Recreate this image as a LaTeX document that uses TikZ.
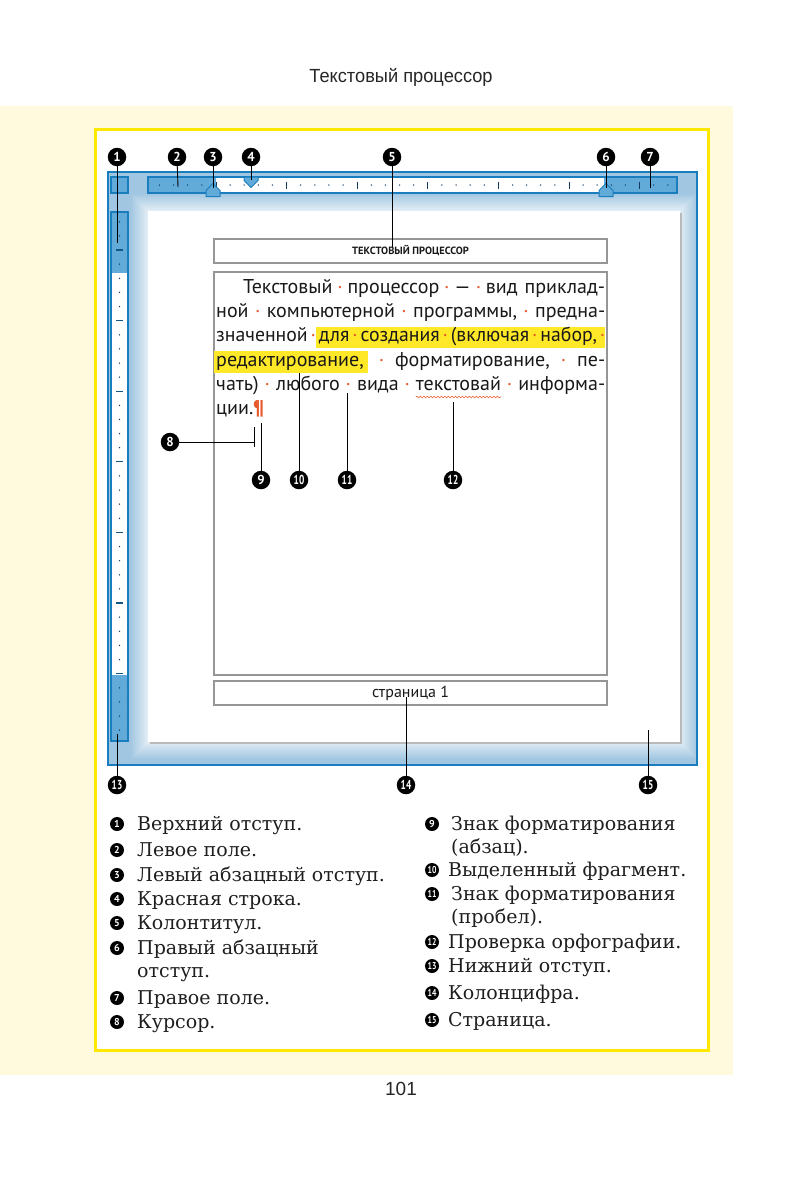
\documentclass[tikz,border=0pt]{standalone}
\usepackage{fontspec}
\setmainfont{DejaVu Serif}
\newfontfamily\bodyf{PT Sans}
\newfontfamily\headf{Liberation Sans}
\usetikzlibrary{decorations.pathmorphing}
\definecolor{cream}{RGB}{255,249,222}
\definecolor{ybord}{RGB}{255,232,0}
\definecolor{fblue}{RGB}{25,125,190}
\definecolor{rblue}{RGB}{98,170,216}
\definecolor{ffill}{RGB}{160,198,225}
\definecolor{glowc}{RGB}{228,238,246}
\definecolor{tickc}{RGB}{20,60,100}
\definecolor{hl}{RGB}{255,232,40}
\definecolor{dotred}{RGB}{232,90,45}
\definecolor{boxgray}{RGB}{150,150,150}
\definecolor{txt}{RGB}{25,25,25}
\definecolor{legtxt}{RGB}{30,30,30}
\newcommand\btf{\bodyf\fontsize{20}{24}\selectfont}
\newcommand\dotc{\textcolor{dotred}{·}}
\newcommand\sepg{\hskip 3pt plus 1fil}
\newcommand\wsep{\sepg\dotc\sepg}
\newcommand\hlglue{{\color{hl}\leaders\hrule height 15pt depth 6.5pt\hskip 3pt plus 1fil}}
\newcommand\hlw[1]{\setbox0\hbox{#1}\rlap{\color{hl}\vrule height 15pt depth 6.5pt width \wd0}\box0}
\newcommand\hlsep{\hlglue\hlw{\dotc}\hlglue}
\newlength\preW \newlength\wordW \newlength\totW \newlength\tmpW
\newcommand\jline[1]{\settowidth\tmpW{#1}\ifdim\tmpW>389pt \pgfmathsetmacro\scf{389/\tmpW}\scalebox{\scf}[1]{\hbox{#1}}\else\hbox to 389pt{#1}\fi}
\begin{document}
\settowidth\preW{\btf чать)\wsep любого\wsep вида\wsep}
\settowidth\wordW{\btf текстовай}
\settowidth\totW{\btf чать)\wsep любого\wsep вида\wsep текстовай\wsep информа-}
\begin{tikzpicture}[x=1pt,y=-1pt,
 callout/.style={circle, fill=black, text=white, inner sep=0pt, minimum size=18.5pt, font=\bodyf\bfseries\fontsize{13}{13}\selectfont},
 lbul/.style={circle, fill=black, text=white, inner sep=0pt, minimum size=14pt, font=\bodyf\bfseries\fontsize{10}{10}\selectfont},
 ltext/.style={anchor=base west, inner sep=0pt, font=\fontsize{19}{22}\selectfont, text=legtxt},
 lead/.style={black, line width=0.9pt},
 pbox/.style={draw=boxgray, line width=1.8pt, inner sep=0pt, minimum width=393pt},
 tline/.style={anchor=base west, inner sep=0pt, font=\btf, text=txt},
 rul/.style={draw=fblue, line width=1.2pt, fill=rblue},
 indm/.style={draw=fblue, line width=1pt, fill=rblue, line join=round}
]
\useasboundingbox (0,0) rectangle (803,1181);
\fill[white] (0,0) rectangle (803,1181);
\node[font=\headf\fontsize{19}{19}\selectfont, text=black!85] (title) at (401,77) {\scalebox{0.96}[1]{Текстовый процессор}};
\fill[cream] (0,106) rectangle (733,1075);
\draw[ybord, line width=3pt, fill=white] (95,129) rectangle (708,1050);

% window frame
\fill[ffill] (108,172) rectangle (697,765);
\foreach \k in {18,17,...,1}{
  \pgfmathtruncatemacro\p{100*\k/18}
  \fill[ffill!\p!glowc] (148-\k,211-\k) rectangle (680+\k,742+\k);
}
\draw[fblue, line width=1.6pt] (108,172) rectangle (697,765);
\fill[gray!55] (150,213) rectangle (682,744);
\fill[white] (148,211) rectangle (680,742);

% rulers
\draw[rul] (148,177) rectangle (677,193);
\fill[white] (216,177.6) rectangle (604,192.4);
\draw[rul] (111,177) rectangle (128,193);
\draw[rul] (111,212) rectangle (128,741);
\fill[white] (111.6,273) rectangle (127.4,675);
\foreach \i in {0,...,36}{
  \pgfmathsetmacro\xx{159.5+14.12*\i}
  \pgfmathtruncatemacro\m{mod(\i,5)}
  \ifnum\m=4 \draw[tickc, line width=0.9pt] (\xx,181.5) -- (\xx,188.5);
  \else \fill[tickc] (\xx,185) circle (0.75pt); \fi
}
\foreach \i in {0,...,36}{
  \pgfmathsetmacro\yy{221.8+14.12*\i}
  \pgfmathtruncatemacro\m{mod(\i,5)}
  \ifnum\m=2 \draw[fblue!70!black, line width=1.2pt] (116,\yy) -- (123,\yy);
  \else \fill[tickc] (119.5,\yy) circle (0.75pt); \fi
}
\draw[indm] (244,177) -- (258,177) -- (258,180.5) -- (251,187.5) -- (244,180.5) -- cycle;
\draw[indm] (206,196.5) -- (220,196.5) -- (220,190.5) -- (213,183.5) -- (206,190.5) -- cycle;
\draw[indm] (599,196.5) -- (613,196.5) -- (613,190.5) -- (606,183.5) -- (599,190.5) -- cycle;

% page boxes
\node[pbox, minimum height=24pt, font=\bodyf\bfseries\fontsize{10.5}{12}\selectfont, text=txt] (hdr) at (410.5,251) {ТЕКСТОВЫЙ ПРОЦЕССОР};
\node[pbox, minimum height=403pt] (body) at (410.5,473.5) {};
\node[pbox, minimum height=24pt, font=\bodyf\fontsize{16}{16}\selectfont, text=txt] (ftr) at (410.5,693) {страница 1};

% body text
\node[tline] (l1) at (216,293) {\jline{\hskip 27pt Текстовый\wsep процессор\wsep —\wsep вид\hskip 5pt plus 1fil приклад-}};
\node[tline] (l2) at (216,317.3) {\jline{ной\wsep компьютерной\wsep программы,\wsep предна-}};
\node[tline] (l3) at (216,341.6) {\jline{значенной\sepg\dotc\hlglue\hlw{для}\hlsep\hlw{создания}\hlsep\hlw{(включая}\hlsep\hlw{набор,}\hlglue\hlw{\dotc}}};
\node[tline] (l4) at (216,366) {\jline{\hskip-2pt\hlw{\hskip2pt редактирование,\hskip4pt}\wsep форматирование,\wsep пе-}};
\node[tline] (l5) at (216,390.3) {\jline{чать)\wsep любого\wsep вида\wsep текстовай\wsep информа-}};
\node[tline] (l6) at (216,414.6) {ции.\textcolor{dotred}{\bfseries ¶}};
\pgfmathsetmacro\ua{216+\preW+0.75*(389pt-\totW)}
\pgfmathsetmacro\ub{\ua+\wordW}
\draw[dotred, line width=0.6pt, decorate, decoration={snake, amplitude=0.9pt, segment length=3.5pt}] (\ua,397) -- (\ub,397);
\draw[black, line width=1pt] (254,427) -- (254,447);

% callout targets
\coordinate (t1) at (117,243);
\coordinate (t2) at (178,187);
\coordinate (t3) at (213,188);
\coordinate (t4) at (251,180);
\coordinate (t5) at (392,247);
\coordinate (t6) at (606,188);
\coordinate (t7) at (650,188);
\coordinate (t8) at (254,442);
\coordinate (t9) at (261,423);
\coordinate (t10) at (299,373);
\coordinate (t11) at (347,393);
\coordinate (t12) at (453,402);
\coordinate (t13) at (117,734);
\coordinate (t14) at (406,697);
\coordinate (t15) at (648,730);

% callouts
\node[callout] (c1) at (117,157) {1};
\node[callout] (c2) at (177,157) {2};
\node[callout] (c3) at (213,157) {3};
\node[callout] (c4) at (251,157) {4};
\node[callout] (c5) at (392,157) {5};
\node[callout] (c6) at (606,157) {6};
\node[callout] (c7) at (650,157) {7};
\node[callout] (c8) at (170,442) {8};
\node[callout] (c9) at (261,480) {9};
\node[callout] (c10) at (299,480) {\scalebox{0.72}[1]{10}};
\node[callout] (c11) at (347,480) {\scalebox{0.72}[1]{11}};
\node[callout] (c12) at (453,480) {\scalebox{0.72}[1]{12}};
\node[callout] (c13) at (117,785) {\scalebox{0.72}[1]{13}};
\node[callout] (c14) at (406,785) {\scalebox{0.72}[1]{14}};
\node[callout] (c15) at (648,785) {\scalebox{0.72}[1]{15}};
\foreach \n in {1,...,15} { \draw[lead] (c\n) -- (t\n); }

% legend
\node[lbul] (b1) at (117,824) {1};
\node[ltext] (e1) at (137,830) {Верхний отступ.};
\node[lbul] (b2) at (117,850) {2};
\node[ltext] (e2) at (137,856) {Левое поле.};
\node[lbul] (b3) at (117,875) {3};
\node[ltext] (e3) at (137,881) {Левый абзацный отступ.};
\node[lbul] (b4) at (117,899) {4};
\node[ltext] (e4) at (137,905) {Красная строка.};
\node[lbul] (b5) at (117,923) {5};
\node[ltext] (e5) at (137,929) {Колонтитул.};
\node[lbul] (b6) at (117,948) {6};
\node[ltext] (e6) at (137,954) {Правый абзацный};
\node[ltext] (e6b) at (137,977) {отступ.};
\node[lbul] (b7) at (117,998) {7};
\node[ltext] (e7) at (137,1004) {Правое поле.};
\node[lbul] (b8) at (117,1022) {8};
\node[ltext] (e8) at (137,1028) {Курсор.};
\node[lbul] (b9) at (432,824) {9};
\node[ltext] (e9) at (451,830) {Знак форматирования};
\node[ltext] (e9b) at (451,853) {(абзац).};
\node[lbul] (b10) at (432,870) {\scalebox{0.78}[1]{10}};
\node[ltext] (e10) at (448,876) {Выделенный фрагмент.};
\node[lbul] (b11) at (432,894) {\scalebox{0.78}[1]{11}};
\node[ltext] (e11) at (451,900) {Знак форматирования};
\node[ltext] (e11b) at (451,923) {(пробел).};
\node[lbul] (b12) at (432,942) {\scalebox{0.78}[1]{12}};
\node[ltext] (e12) at (448,948) {Проверка орфографии.};
\node[lbul] (b13) at (432,966) {\scalebox{0.78}[1]{13}};
\node[ltext] (e13) at (448,972) {Нижний отступ.};
\node[lbul] (b14) at (432,993) {\scalebox{0.78}[1]{14}};
\node[ltext] (e14) at (448,999) {Колонцифра.};
\node[lbul] (b15) at (432,1020) {\scalebox{0.78}[1]{15}};
\node[ltext] (e15) at (448,1026) {Страница.};

\node[font=\headf\fontsize{19}{19}\selectfont, text=black!85] (pnum) at (401,1089) {101};
\end{tikzpicture}
\end{document}
